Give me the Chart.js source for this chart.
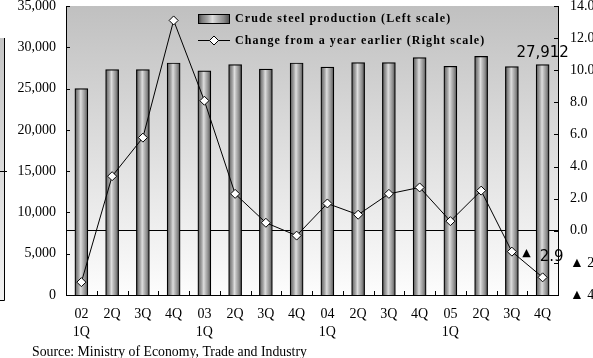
<!DOCTYPE html>
<html>
<head>
<meta charset="utf-8">
<script src="https://cdn.jsdelivr.net/npm/chart.js@4.4.1/dist/chart.umd.min.js"></script>
<style>
  html, body { margin: 0; padding: 0; background: #fff; }
</style>
</head>
<body>
<canvas id="steel_canvas" width="593" height="358"></canvas>
<script>
// quarterly labels (year shown on 1Q only)
const quarters = [['02', '1Q'], ['2Q'], ['3Q'], ['4Q'], ['03', '1Q'], ['2Q'], ['3Q'], ['4Q'],
                  ['04', '1Q'], ['2Q'], ['3Q'], ['4Q'], ['05', '1Q'], ['2Q'], ['3Q'], ['4Q']];
// crude steel production, thousand tons (left scale)
const production = [25000, 27300, 27300, 28100, 27150, 27900, 27350, 28100,
                    27600, 28150, 28150, 28750, 27700, 28900, 27650, 27912];
// change from a year earlier, % (right scale)
const changeYoY = [-3.2, 3.4, 5.8, 13.1, 8.1, 2.3, 0.5, -0.3,
                   1.7, 1.0, 2.3, 2.7, 0.6, 2.5, -1.3, -2.9];

const seriesNames = ['Crude steel production (Left scale)', 'Change from a year earlier (Right scale)'];
const sourceNote = 'Source: Ministry of Economy, Trade and Industry';

const serif = '"Liberation Serif", "Times New Roman", serif';
const sans = '"DejaVu Sans", sans-serif';

function barGradient(ctx, x0, x1) {
  const g = ctx.createLinearGradient(x0, 0, x1, 0);
  g.addColorStop(0, '#3c3c3c');
  g.addColorStop(0.12, '#7a7a7a');
  g.addColorStop(0.3, '#a8a8a8');
  g.addColorStop(0.45, '#dedede');
  g.addColorStop(0.6, '#b8b8b8');
  g.addColorStop(0.8, '#8c8c8c');
  g.addColorStop(1, '#4a4a4a');
  return g;
}

function triangleLabel(v) {
  // Japanese style: negatives shown with ▲
  return v < 0 ? '\u25B2 ' + Math.abs(v).toFixed(1) : v.toFixed(1);
}

const BAR_W = 13;

const decorPlugin = {
  id: 'decor',
  beforeDraw(chart) {
    const { ctx, chartArea: a } = chart;
    ctx.save();
    // plot background: grey at top fading to white
    const g = ctx.createLinearGradient(0, a.top, 0, a.bottom);
    g.addColorStop(0, '#c0c0c0');
    g.addColorStop(1, '#fdfdfd');
    ctx.fillStyle = g;
    ctx.fillRect(a.left, a.top, a.right - a.left, a.bottom - a.top);

    // edge of the neighbouring chart, cut off at the left
    const g2 = ctx.createLinearGradient(0, 38, 0, 300);
    g2.addColorStop(0, '#c4c4c4');
    g2.addColorStop(1, '#f2f2f2');
    ctx.fillStyle = g2;
    ctx.fillRect(0, 38, 4.5, 262);
    ctx.strokeStyle = '#000';
    ctx.lineWidth = 1;
    ctx.beginPath();
    ctx.moveTo(4.5, 38); ctx.lineTo(4.5, 300.5); ctx.lineTo(0, 300.5);
    ctx.moveTo(0, 171.5); ctx.lineTo(7, 171.5);
    ctx.stroke();
    ctx.restore();
  },
  afterDraw(chart) {
    const { ctx, chartArea: a, scales } = chart;
    ctx.save();
    ctx.strokeStyle = '#000';
    ctx.lineWidth = 1;

    // inside tick marks
    ctx.beginPath();
    scales.y.ticks.forEach(t => {
      const y = Math.round(scales.y.getPixelForValue(t.value)) + 0.5;
      ctx.moveTo(a.left, y); ctx.lineTo(a.left + 4, y);
    });
    scales.y2.ticks.forEach(t => {
      const y = Math.round(scales.y2.getPixelForValue(t.value)) + 0.5;
      ctx.moveTo(a.right - 4, y); ctx.lineTo(a.right, y);
    });
    const step = scales.x.getPixelForValue(1) - scales.x.getPixelForValue(0);
    for (let i = 1; i < quarters.length; i++) {
      const x = Math.round(scales.x.getPixelForValue(i) - step / 2) + 0.5;
      ctx.moveTo(x, a.bottom); ctx.lineTo(x, a.bottom - 4);
    }
    ctx.stroke();

    // legend inside the plot
    const lx = a.left + 132;
    const ty = a.top + 13;
    ctx.fillStyle = barGradient(ctx, lx, lx + 32);
    ctx.fillRect(lx, ty - 5, 32, 10);
    ctx.strokeRect(lx + 0.5, ty - 4.5, 31, 9);

    const ly = a.top + 34.5;
    ctx.beginPath();
    ctx.moveTo(lx, ly); ctx.lineTo(lx + 32, ly);
    ctx.stroke();
    ctx.beginPath();
    ctx.moveTo(lx + 16, ly - 4.5); ctx.lineTo(lx + 20.5, ly);
    ctx.lineTo(lx + 16, ly + 4.5); ctx.lineTo(lx + 11.5, ly);
    ctx.closePath();
    ctx.fillStyle = '#fff';
    ctx.fill();
    ctx.stroke();

    ctx.fillStyle = '#000';
    ctx.font = 'bold 12px ' + serif;
    ctx.letterSpacing = '1.1px';
    ctx.textAlign = 'left';
    ctx.textBaseline = 'middle';
    ctx.fillText(seriesNames[0], lx + 37, ty);
    ctx.fillText(seriesNames[1], lx + 37, ly);
    ctx.letterSpacing = '0px';

    // value labels on the latest quarter
    const last = quarters.length - 1;
    const bx = scales.x.getPixelForValue(last);
    ctx.font = '15px ' + sans;
    ctx.textAlign = 'center';
    ctx.fillText(production[last].toLocaleString('en-US'), bx, scales.y.getPixelForValue(production[last]) - 11);

    const py = scales.y2.getPixelForValue(changeYoY[last]);
    ctx.textAlign = 'left';
    ctx.fillText(Math.abs(changeYoY[last]).toFixed(1), bx - 3, py - 20);
    ctx.font = '11px ' + sans;
    ctx.textAlign = 'right';
    ctx.fillText('\u25B2', bx - 12, py - 24);

    // source note
    ctx.font = '13.8px ' + serif;
    ctx.textAlign = 'left';
    ctx.textBaseline = 'alphabetic';
    ctx.fillText(sourceNote, 32, 356);
    ctx.restore();
  }
};

const ctx = document.getElementById('steel_canvas').getContext('2d');

const chartData = {
  labels: quarters,
  datasets: [
    {
      type: 'line',
      label: seriesNames[1],
      data: changeYoY,
      yAxisID: 'y2',
      order: 0,
      borderColor: '#000',
      borderWidth: 1,
      tension: 0,
      pointStyle: 'rectRot',
      pointRadius: 4.5,
      pointBackgroundColor: '#fff',
      pointBorderColor: '#000',
      pointBorderWidth: 1
    },
    {
      type: 'bar',
      label: seriesNames[0],
      data: production,
      yAxisID: 'y',
      order: 1,
      barThickness: BAR_W,
      borderColor: '#000',
      borderWidth: 1.2,
      backgroundColor: (c) => {
        const xs = c.chart.scales.x;
        if (!xs || c.dataIndex === undefined) return '#999';
        const cx = xs.getPixelForValue(c.dataIndex);
        if (!Number.isFinite(cx)) return '#999';
        return barGradient(c.chart.ctx, cx - BAR_W / 2, cx + BAR_W / 2);
      }
    }
  ]
};

// fixed axis sizes so the plot area sits where the original one does
function fixVertical(width) {
  return s => {
    s.width = width;
    s.paddingTop = 0;
    s.paddingBottom = 0;
  };
}

const config = {
  data: chartData,
  options: {
    responsive: false,
    animation: false,
    devicePixelRatio: 1,
    layout: { padding: { top: 6, left: 0, right: 0, bottom: 0 } },
    plugins: {
      legend: { display: false },
      tooltip: { enabled: false }
    },
    scales: {
      x: {
        offset: true,
        grid: { display: false, drawTicks: false },
        border: { color: '#000', width: 1 },
        ticks: {
          color: '#000',
          autoSkip: false,
          maxRotation: 0,
          padding: 10,
          font: { family: serif, size: 14, lineHeight: 1.32 }
        },
        afterFit: s => { s.height = 63; s.paddingLeft = 0; s.paddingRight = 0; }
      },
      y: {
        position: 'left',
        min: 0,
        max: 35000,
        grid: { display: false, drawTicks: false },
        border: { color: '#000', width: 1 },
        ticks: {
          stepSize: 5000,
          color: '#000',
          padding: 10,
          font: { family: serif, size: 14 },
          callback: v => v.toLocaleString('en-US')
        },
        afterFit: fixVertical(66)
      },
      y2: {
        position: 'right',
        min: -4,
        max: 14,
        grid: {
          drawTicks: false,
          color: c => (c.tick && c.tick.value === 0 ? '#000' : 'rgba(0,0,0,0)'),
          lineWidth: 1
        },
        border: { color: '#000', width: 1 },
        ticks: {
          stepSize: 2,
          color: '#000',
          padding: 12,
          font: { family: serif, size: 14 },
          callback: v => triangleLabel(v)
        },
        afterFit: fixVertical(35)
      }
    }
  },
  plugins: [decorPlugin]
};

const steelChart = new Chart(ctx, config);
</script>
</body>
</html>
